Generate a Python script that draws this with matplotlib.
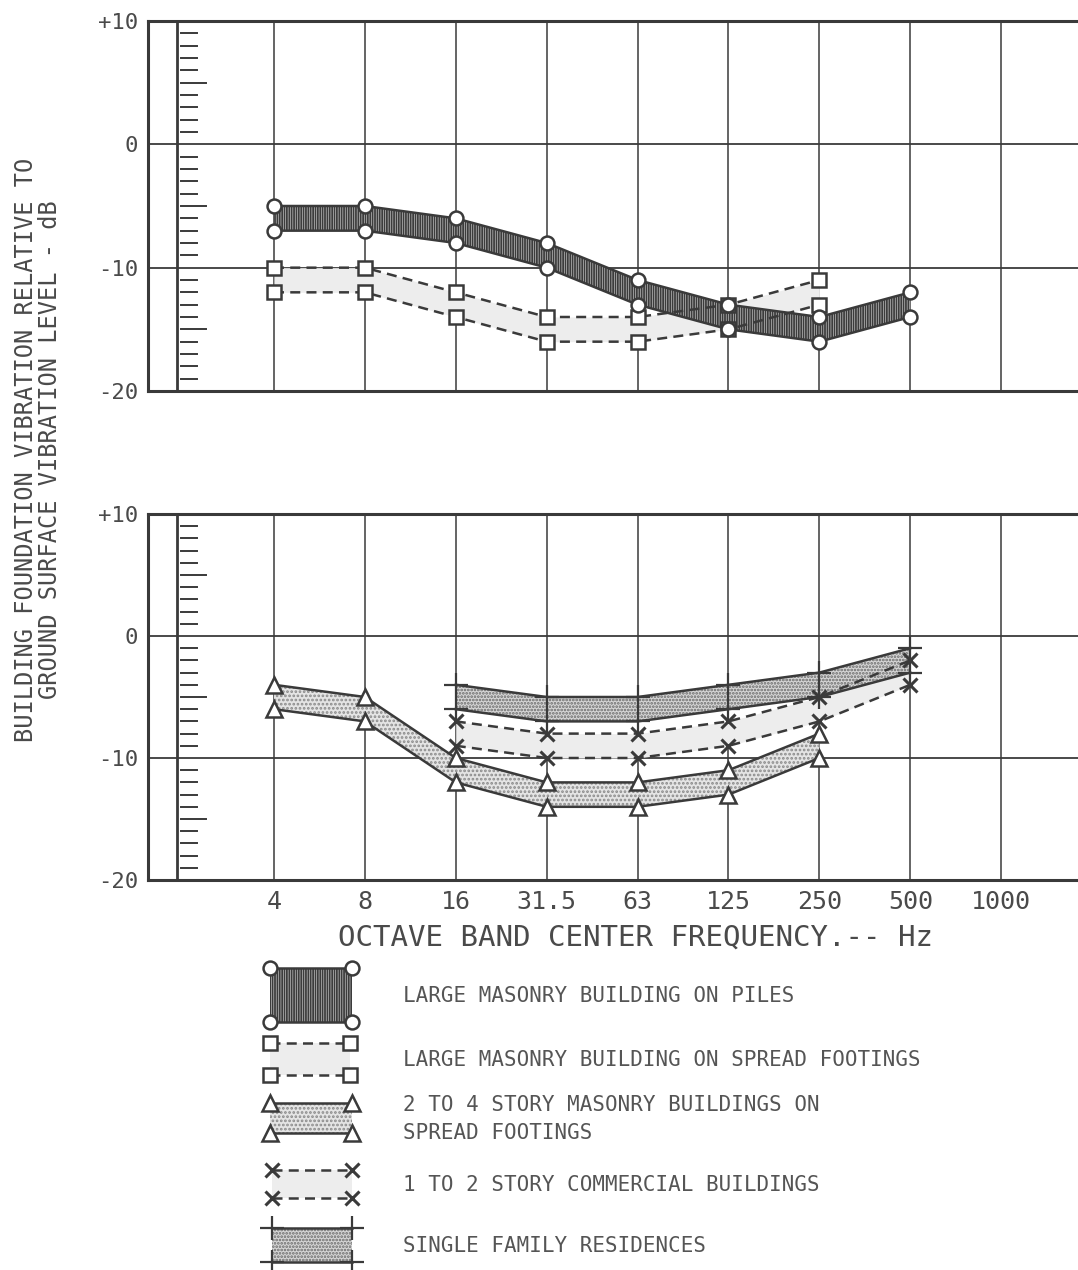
import numpy as np
import matplotlib
matplotlib.use("Agg")
import matplotlib.pyplot as plt

# octave band centre frequencies (x categories)
freqs = ['4', '8', '16', '31.5', '63', '125', '250', '500', '1000']

# top panel - large masonry on piles (4..500 Hz)
piles_hi = [-5, -5, -6, -8, -11, -13, -14, -12]
piles_lo = [-7, -7, -8, -10, -13, -15, -16, -14]
# top panel - large masonry on spread footings (4..250 Hz)
spread_hi = [-10, -10, -12, -14, -14, -13, -11]
spread_lo = [-12, -12, -14, -16, -16, -15, -13]

# bottom panel - 2 to 4 story masonry (4..250 Hz)
story_hi = [-4, -5, -10, -12, -12, -11, -8]
story_lo = [-6, -7, -12, -14, -14, -13, -10]
# bottom panel - 1 to 2 story commercial (16..500 Hz)
comm_hi = [-7, -8, -8, -7, -5, -2]
comm_lo = [-9, -10, -10, -9, -7, -4]
# bottom panel - single family residences (16..500 Hz)
sfr_hi = [-4, -5, -5, -4, -3, -1]
sfr_lo = [-6, -7, -7, -6, -5, -3]

yticks = [10, 0, -10, -20]
ytick_labels = ['+10', '0', '-10', '-20']

INK = '#3a3a3a'
TXT = '#4a4a4a'
plt.rcParams['font.family'] = ['DejaVu Sans Mono']
plt.rcParams['hatch.linewidth'] = 1.3

W, H = 1078, 1270
fig = plt.figure(figsize=(W / 100, H / 100), dpi=100)

XL = (-1.386, 8.845)


def setup(ax, show_x):
    ax.set_xlim(*XL)
    ax.set_ylim(-20, 10)
    for s in ['top', 'bottom', 'left']:
        ax.spines[s].set_linewidth(2.2)
        ax.spines[s].set_color(INK)
    ax.spines['right'].set_visible(False)
    ax.set_yticks(yticks)
    ax.set_yticklabels(ytick_labels, fontsize=16, color=TXT)
    ax.tick_params(axis='y', length=0, pad=7)
    ax.set_xticks(range(len(freqs)))
    if show_x:
        ax.set_xticklabels(freqs, fontsize=18, color=TXT)
    else:
        ax.set_xticklabels([])
    ax.tick_params(axis='x', length=0, pad=7)
    for i in range(len(freqs)):
        ax.axvline(i, color=INK, lw=1.1, zorder=1)
    for yv in [0, -10]:
        ax.axhline(yv, color=INK, lw=1.3, zorder=1)
    # inner scale line with 1 dB ticks
    ax.axvline(-1.07, color=INK, lw=2.0, zorder=1)
    for yv in range(-19, 10):
        if yv % 10 == 0:
            continue
        x1 = -0.75 if yv % 5 == 0 else -0.85
        ax.plot([-1.02, x1], [yv, yv], color=INK, lw=1.4, zorder=1)


def band(ax, x, hi, lo, face, hatch, hcol, marker, ls, ms, mew=1.8, mfc='white'):
    ax.fill_between(x, lo, hi, facecolor=face, hatch=hatch, edgecolor=hcol,
                    linewidth=0, zorder=2)
    for y in (hi, lo):
        ax.plot(x, y, color=INK, lw=1.8, ls=ls, marker=marker, ms=ms,
                mfc=mfc, mec=INK, mew=mew, zorder=3)


ax1 = fig.add_axes([148 / W, (H - 391) / H, (W - 148) / W, 370 / H])
ax2 = fig.add_axes([148 / W, (H - 880) / H, (W - 148) / W, 366 / H])
setup(ax1, False)
setup(ax2, True)

STYLES = {
    'piles': dict(face='#dcdcdc', hatch='|||||||', hcol='#3c3c3c', marker='o', ls='-', ms=10),
    'spread': dict(face='#ededed', hatch=None, hcol='#ededed', marker='s', ls=(0, (4, 2.5)), ms=9.5),
    'story': dict(face='#e4e4e4', hatch='....', hcol='#8a8a8a', marker='^', ls='-', ms=11),
    'comm': dict(face='#ededed', hatch=None, hcol='#ededed', marker='x', ls=(0, (4, 2.5)), ms=10, mew=2.2),
    'sfr': dict(face='#d6d6d6', hatch='.....', hcol='#6a6a6a', marker='+', ls='-', ms=17, mew=1.6),
}

band(ax1, np.arange(len(spread_hi)), spread_hi, spread_lo, **STYLES['spread'])
band(ax1, np.arange(len(piles_hi)), piles_hi, piles_lo, **STYLES['piles'])

band(ax2, np.arange(len(story_hi)), story_hi, story_lo, **STYLES['story'])
band(ax2, np.arange(2, 2 + len(comm_hi)), comm_hi, comm_lo, **STYLES['comm'])
band(ax2, np.arange(2, 2 + len(sfr_hi)), sfr_hi, sfr_lo, **STYLES['sfr'])

ax2.set_xlabel('OCTAVE BAND CENTER FREQUENCY.-- Hz', fontsize=21, color=TXT)
ax2.xaxis.set_label_coords((635 - 148) / (W - 148), -0.118)

fig.text(38 / W, (H - 450) / H,
         'BUILDING FOUNDATION VIBRATION RELATIVE TO\nGROUND SURFACE VIBRATION LEVEL - dB',
         rotation=90, ha='center', va='center', multialignment='center',
         fontsize=17, color=TXT, linespacing=0.95)

# key below the charts, in pixel coordinates
lax = fig.add_axes([0, 0, 1, 330 / H])
lax.set_xlim(0, W)
lax.set_ylim(H, H - 330)
lax.axis('off')

key = [
    ('piles', 968, 1022, 270, 352, 'LARGE MASONRY BUILDING ON PILES'),
    ('spread', 1043, 1075, 270, 350, 'LARGE MASONRY BUILDING ON SPREAD FOOTINGS'),
    ('story', 1103, 1133, 270, 352, '2 TO 4 STORY MASONRY BUILDINGS ON\nSPREAD FOOTINGS'),
    ('comm', 1170, 1198, 272, 352, '1 TO 2 STORY COMMERCIAL BUILDINGS'),
    ('sfr', 1228, 1262, 272, 352, 'SINGLE FAMILY RESIDENCES'),
]
for name, yt, yb, x0, x1, label in key:
    st = STYLES[name]
    band(lax, [x0, x1], [yt, yt], [yb, yb], **st)
    lax.text(403, (yt + yb) / 2 + 1, label, fontsize=15, color='#555555',
             va='center', ha='left', linespacing=1.45)

fig.savefig('out.png', dpi=100, facecolor='white')
